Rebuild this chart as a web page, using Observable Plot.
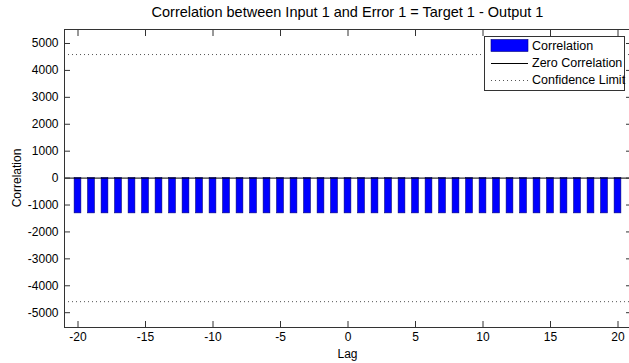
<!DOCTYPE html>
<html>
<head>
<meta charset="utf-8">
<script src="https://cdn.jsdelivr.net/npm/d3@7"></script>
<script src="https://cdn.jsdelivr.net/npm/@observablehq/plot@0.6"></script>
<style>
  html, body { margin: 0; padding: 0; background: #fff; }
  #chart svg { display: block; }
</style>
</head>
<body>
<div id="chart"></div>
<script>
// Error autocorrelation: one bar per lag
const lags = [-20, -19, -18, -17, -16, -15, -14, -13, -12, -11, -10, -9, -8, -7, -6, -5, -4, -3, -2, -1,
  0, 1, 2, 3, 4, 5, 6, 7, 8, 9, 10, 11, 12, 13, 14, 15, 16, 17, 18, 19, 20];
const correlation = [-1310, -1310, -1310, -1310, -1310, -1310, -1310, -1310, -1310, -1310,
  -1310, -1310, -1310, -1310, -1310, -1310, -1310, -1310, -1310, -1310,
  -1310,
  -1310, -1310, -1310, -1310, -1310, -1310, -1310, -1310, -1310, -1310,
  -1310, -1310, -1310, -1310, -1310, -1310, -1310, -1310, -1310, -1310];
const confidenceLimits = [4590, -4590];
const zeroLine = [0];
const xTicks = [-20, -15, -10, -5, 0, 5, 10, 15, 20];
const yTicks = [-5000, -4000, -3000, -2000, -1000, 0, 1000, 2000, 3000, 4000, 5000];
const xDomain = [-21, 21];
const yDomain = [-5550, 5520];

const titleText = "Correlation between Input 1 and Error 1 = Target 1 - Output 1";
const xLabel = "Lag";
const yLabel = "Correlation";
const legendLabels = ["Correlation", "Zero Correlation", "Confidence Limit"];

const barHalfWidth = 0.25;
const font = "'Liberation Sans', Arial, Helvetica, sans-serif";
const W = 629, H = 363;
const M = {left: 64, right: -2, top: 29, bottom: 36};

const rows = lags.map((lag, i) => ({lag, corr: correlation[i]}));
const fmt = d => String(d);
const axisColor = "#333";

const plot = Plot.plot({
  width: W,
  height: H,
  marginLeft: M.left,
  marginRight: M.right,
  marginTop: M.top,
  marginBottom: M.bottom,
  style: {fontFamily: font, fontSize: "12px", background: "#fff", color: "#000", overflow: "hidden"},
  x: {domain: xDomain},
  y: {domain: yDomain},
  marks: [
    Plot.rectY(rows, {
      x1: d => d.lag - barHalfWidth,
      x2: d => d.lag + barHalfWidth,
      y1: 0,
      y2: "corr",
      fill: "#0000ff",
      stroke: "#00007a",
      strokeWidth: 0.6
    }),
    Plot.ruleY(confidenceLimits, {stroke: "#555", strokeWidth: 1, strokeDasharray: "1,3"}),
    Plot.ruleY(zeroLine, {stroke: "#000", strokeWidth: 1}),
    Plot.frame({stroke: axisColor}),
    // inward ticks on all four sides, labels on left and bottom
    Plot.axisX({anchor: "bottom", ticks: xTicks, tickSize: -6, tickPadding: 11, tickFormat: fmt, label: null, stroke: axisColor}),
    Plot.axisX({anchor: "top", ticks: xTicks, tickSize: -6, tickFormat: () => "", label: null, stroke: axisColor}),
    Plot.axisY({anchor: "left", ticks: yTicks, tickSize: -6, tickPadding: 12, tickFormat: fmt, label: null, stroke: axisColor}),
    Plot.axisY({anchor: "right", ticks: yTicks, tickSize: -6, tickFormat: () => "", label: null, stroke: axisColor})
  ]
});

const svg = d3.select(plot);
const x0 = M.left, x1 = W - M.right, y0 = M.top, y1 = H - M.bottom;

// title
svg.append("text")
  .attr("x", (x0 + x1) / 2).attr("y", 17)
  .attr("text-anchor", "middle")
  .attr("font-size", 14.5).attr("fill", "#000")
  .text(titleText);

// axis labels
svg.append("text")
  .attr("x", (x0 + x1) / 2).attr("y", 358)
  .attr("text-anchor", "middle")
  .attr("font-size", 12).attr("fill", "#000")
  .text(xLabel);
svg.append("text")
  .attr("transform", `translate(21,${(y0 + y1) / 2}) rotate(-90)`)
  .attr("text-anchor", "middle")
  .attr("font-size", 12).attr("fill", "#000")
  .text(yLabel);

// legend
const lg = svg.append("g").attr("transform", "translate(484,36)");
lg.append("rect").attr("x", 0.5).attr("y", 0.5).attr("width", 140).attr("height", 54)
  .attr("fill", "#fff").attr("stroke", "#333");
lg.append("rect").attr("x", 7).attr("y", 3.5).attr("width", 37).attr("height", 12)
  .attr("fill", "#0000ff").attr("stroke", "#00007a").attr("stroke-width", 0.6);
lg.append("line").attr("x1", 7).attr("x2", 44).attr("y1", 27.5).attr("y2", 27.5)
  .attr("stroke", "#000");
lg.append("line").attr("x1", 7).attr("x2", 44).attr("y1", 44.5).attr("y2", 44.5)
  .attr("stroke", "#555").attr("stroke-dasharray", "1,3");
legendLabels.forEach((t, i) => {
  lg.append("text").attr("x", 48).attr("y", 10 + i * 17).attr("dy", "0.35em")
    .attr("text-anchor", "start")
    .attr("font-size", 12.5).attr("fill", "#000").text(t);
});

document.getElementById("chart").appendChild(plot);
</script>
</body>
</html>
